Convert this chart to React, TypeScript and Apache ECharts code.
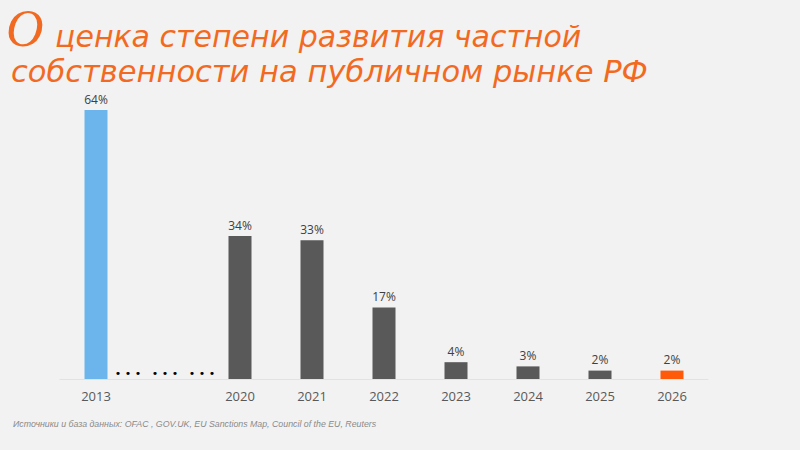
import React, { useEffect, useRef } from "react";
import * as echarts from "echarts";

const categories = ["2013", "", "2020", "2021", "2022", "2023", "2024", "2025", "2026"];
const values: (number | null)[] = [64, 0, 34, 33, 17, 4, 3, 2, 2];
const barColors = ["#6cb5ec", "transparent", "#595959", "#595959", "#595959", "#595959", "#595959", "#595959", "#ff5a0a"];
const titleFirst = "О";
const titleLine1 = "ценка степени развития частной";
const titleLine2 = "собственности на публичном рынке РФ";
const sourceText = "Источники и база данных: OFAC , GOV.UK, EU Sanctions Map, Council of the EU, Reuters";
const gapMark = "• • •   • • •   • • •";

export default function App() {
  const ref = useRef<HTMLDivElement>(null);
  useEffect(() => {
    const chart = echarts.init(ref.current!, null, { renderer: "svg" });
    const orange = "#f26a21";
    chart.setOption({
      animation: false,
      backgroundColor: "#f2f2f2",
      title: [
        {
          text: titleFirst,
          left: 6,
          top: 2,
          padding: 0,
          textStyle: { fontFamily: "Liberation Serif", fontStyle: "italic", fontWeight: "normal", fontSize: 52, lineHeight: 52, color: orange },
        },
        {
          text: titleLine1,
          left: 50,
          top: 16,
          textStyle: { fontFamily: "DejaVu Sans", fontStyle: "italic", fontWeight: "normal", fontSize: 30, lineHeight: 30, color: orange },
        },
        {
          text: titleLine2,
          left: 6,
          top: 51,
          textStyle: { fontFamily: "DejaVu Sans", fontStyle: "italic", fontWeight: "normal", fontSize: 30.5, lineHeight: 30, color: orange },
        },
        {
          text: sourceText,
          left: 8,
          top: 414,
          textStyle: { fontFamily: "Liberation Sans", fontStyle: "italic", fontWeight: "normal", fontSize: 8.8, color: "#8a8a8a" },
        },
      ],
      grid: { left: 60, right: 92, top: 110, bottom: 71 },
      xAxis: {
        type: "category",
        data: categories,
        axisLine: { show: true, lineStyle: { color: "#e2e2e2", width: 1 } },
        axisTick: { show: false },
        axisLabel: { color: "#595959", fontFamily: "Open Sans", fontSize: 13, margin: 10 },
      },
      yAxis: {
        type: "value",
        min: 0,
        max: 64,
        show: false,
        splitLine: { show: false },
      },
      series: [
        {
          type: "bar",
          barWidth: 23,
          data: values.map((v, i) => ({
            value: v,
            itemStyle: { color: barColors[i] },
            label:
              i === 1
                ? { show: true, position: "top", distance: 0, offset: [-3, 0], formatter: gapMark, color: "#000", fontSize: 11, fontFamily: "DejaVu Sans" }
                : undefined,
          })),
          label: {
            show: true,
            position: "top",
            distance: 5,
            formatter: (p: any) => `${p.value}%`,
            color: "#404040",
            fontFamily: "Open Sans",
            fontSize: 12,
          },
        },
      ],
    });
    return () => chart.dispose();
  }, []);
  return <div ref={ref} style={{ width: 800, height: 450, position: "absolute", left: 0, top: 0 }} />;
}
